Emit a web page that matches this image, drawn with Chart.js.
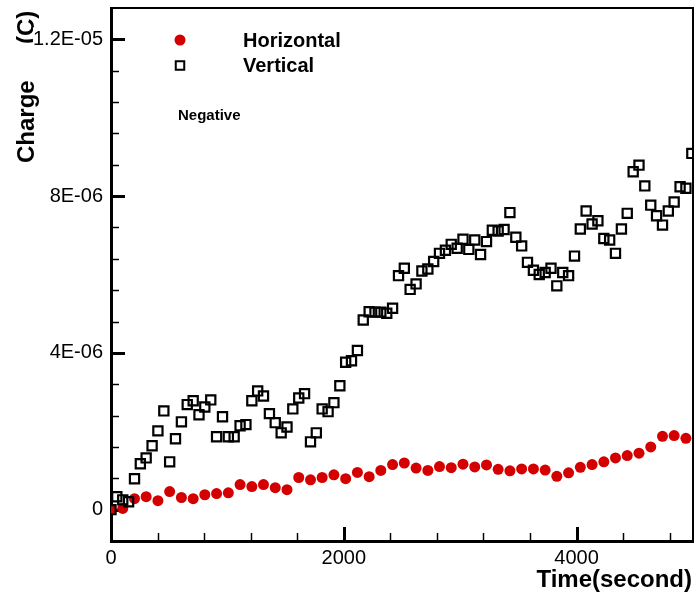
<!DOCTYPE html>
<html>
<head>
<meta charset="utf-8">
<title>Charge vs time</title>
<script src="https://cdn.jsdelivr.net/npm/chart.js@4.4.1/dist/chart.umd.min.js"></script>
<style>
  html, body { margin: 0; padding: 0; background: #fff; }
</style>
</head>
<body>
<canvas id="chargeChart" width="696" height="597"></canvas>
<script>
/* ================= DATA ================= */
// sample times (s)
const verticalTime = [
  0, 50, 101, 151, 202, 252, 302, 353, 403, 454,
  504, 554, 605, 655, 706, 756, 806, 857, 907, 958,
  1008, 1058, 1109, 1159, 1210, 1260, 1310, 1361, 1411, 1462,
  1512, 1562, 1613, 1663, 1714, 1764, 1814, 1865, 1915, 1966,
  2016, 2066, 2117, 2167, 2218, 2268, 2318, 2369, 2419, 2470,
  2520, 2570, 2621, 2671, 2722, 2772, 2822, 2873, 2923, 2974,
  3024, 3074, 3125, 3175, 3226, 3276, 3326, 3377, 3427, 3478,
  3528, 3578, 3629, 3679, 3730, 3780, 3830, 3881, 3931, 3982,
  4032, 4082, 4133, 4183, 4234, 4284, 4334, 4385, 4435, 4486,
  4536, 4586, 4637, 4687, 4738, 4788, 4838, 4889, 4939, 4990
];
// charge (C)
const verticalCharge = [
  0, 0.33e-6, 0.25e-6, 0.20e-6, 0.79e-6, 1.17e-6, 1.32e-6, 1.63e-6, 2.01e-6, 2.52e-6,
  1.22e-6, 1.81e-6, 2.24e-6, 2.68e-6, 2.78e-6, 2.42e-6, 2.62e-6, 2.80e-6, 1.86e-6, 2.37e-6,
  1.86e-6, 1.86e-6, 2.14e-6, 2.17e-6, 2.78e-6, 3.03e-6, 2.90e-6, 2.45e-6, 2.22e-6, 1.96e-6,
  2.11e-6, 2.57e-6, 2.85e-6, 2.96e-6, 1.73e-6, 1.96e-6, 2.57e-6, 2.50e-6, 2.73e-6, 3.16e-6,
  3.76e-6, 3.80e-6, 4.06e-6, 4.84e-6, 5.05e-6, 5.04e-6, 5.04e-6, 5.01e-6, 5.14e-6, 5.97e-6,
  6.16e-6, 5.62e-6, 5.76e-6, 6.09e-6, 6.14e-6, 6.33e-6, 6.54e-6, 6.62e-6, 6.77e-6, 6.67e-6,
  6.90e-6, 6.64e-6, 6.88e-6, 6.51e-6, 6.84e-6, 7.13e-6, 7.11e-6, 7.15e-6, 7.58e-6, 6.95e-6,
  6.73e-6, 6.31e-6, 6.11e-6, 6.00e-6, 6.05e-6, 6.16e-6, 5.71e-6, 6.05e-6, 5.97e-6, 6.47e-6,
  7.16e-6, 7.62e-6, 7.29e-6, 7.37e-6, 6.92e-6, 6.88e-6, 6.54e-6, 7.16e-6, 7.56e-6, 8.62e-6,
  8.79e-6, 8.26e-6, 7.77e-6, 7.50e-6, 7.26e-6, 7.62e-6, 7.85e-6, 8.24e-6, 8.20e-6, 9.09e-6
];

const horizontalTime = [
  0, 101, 202, 302, 403, 504, 605, 706, 806, 907,
  1008, 1109, 1210, 1310, 1411, 1512, 1613, 1714, 1814, 1915,
  2016, 2117, 2218, 2318, 2419, 2520, 2621, 2722, 2822, 2923,
  3024, 3125, 3226, 3326, 3427, 3528, 3629, 3730, 3830, 3931,
  4032, 4133, 4234, 4334, 4435, 4536, 4637, 4738, 4838, 4939
];
const horizontalCharge = [
  0, 0.03e-6, 0.28e-6, 0.33e-6, 0.23e-6, 0.46e-6, 0.31e-6, 0.28e-6, 0.38e-6, 0.41e-6,
  0.43e-6, 0.64e-6, 0.59e-6, 0.64e-6, 0.56e-6, 0.51e-6, 0.82e-6, 0.76e-6, 0.82e-6, 0.89e-6,
  0.79e-6, 0.95e-6, 0.84e-6, 1.00e-6, 1.15e-6, 1.19e-6, 1.06e-6, 1.00e-6, 1.10e-6, 1.07e-6,
  1.16e-6, 1.09e-6, 1.14e-6, 1.03e-6, 0.99e-6, 1.04e-6, 1.04e-6, 1.01e-6, 0.85e-6, 0.94e-6,
  1.08e-6, 1.15e-6, 1.22e-6, 1.32e-6, 1.38e-6, 1.44e-6, 1.60e-6, 1.87e-6, 1.89e-6, 1.82e-6
];

const xTickValues = [0, 2000, 4000];
const xTickLabels = ["0", "2000", "4000"];
const xMinorTicks = [400, 800, 1200, 1600, 2400, 2800, 3200, 3600, 4400, 4800];

const yTickValues = [0, 4e-6, 8e-6, 1.2e-5];
const yTickLabels = ["0", "4E-06", "8E-06", "1.2E-05"];
const yMinorTicks = [8e-7, 1.6e-6, 2.4e-6, 3.2e-6, 4.8e-6, 5.6e-6, 6.4e-6, 7.2e-6,
                     8.8e-6, 9.6e-6, 1.04e-5, 1.12e-5];

/* ================= STYLE ================= */
const FONT = "'Liberation Sans', Arial, Helvetica, sans-serif";
const RED = "#d40000";

const toPoints = (xs, ys) => xs.map((x, i) => ({ x: x, y: ys[i] }));

// fixed box sizes, no extra label padding around the plot
const fixBox = (s, w, h) => {
  if (w) s.width = w;
  if (h) s.height = h;
  s.paddingTop = s.paddingBottom = s.paddingLeft = s.paddingRight = 0;
};

/* ================= PLUGINS ================= */
// axis titles (drawn first so the tick label backdrop sits over them)
const axisTitles = {
  id: "axisTitles",
  beforeDraw(chart) {
    const ctx = chart.ctx;
    ctx.save();
    ctx.fillStyle = "#000";
    ctx.font = "bold 24px " + FONT;
    ctx.textBaseline = "alphabetic";
    ctx.textAlign = "right";
    ctx.fillText("Time(second)", 692, 587);

    ctx.textAlign = "left";
    ctx.save();
    ctx.translate(34, 163);
    ctx.rotate(-Math.PI / 2);
    ctx.fillText("Charge", 0, 0);
    ctx.restore();
    ctx.save();
    ctx.translate(34, 44);
    ctx.rotate(-Math.PI / 2);
    ctx.fillText("(C)", 0, 0);
    ctx.restore();
    ctx.restore();
  }
};

// inward tick marks + top/right frame
const frameTicks = {
  id: "frameTicks",
  beforeDatasetsDraw(chart) {
    const { ctx, chartArea: a, scales: { x, y } } = chart;
    ctx.save();
    ctx.strokeStyle = "#000";
    ctx.lineWidth = 2;
    ctx.beginPath();
    ctx.moveTo(a.left, a.top);
    ctx.lineTo(a.right, a.top);
    ctx.lineTo(a.right, a.bottom);
    ctx.stroke();

    const tickY = (v, len, w) => {
      const py = Math.round(y.getPixelForValue(v)) + 0.5;
      ctx.lineWidth = w;
      ctx.beginPath();
      ctx.moveTo(a.left, py);
      ctx.lineTo(a.left + len, py);
      ctx.stroke();
    };
    const tickX = (v, len, w) => {
      const px = Math.round(x.getPixelForValue(v)) + 0.5;
      ctx.lineWidth = w;
      ctx.beginPath();
      ctx.moveTo(px, a.bottom);
      ctx.lineTo(px, a.bottom - len);
      ctx.stroke();
    };
    yTickValues.forEach(v => tickY(v, 14, 3));
    yMinorTicks.forEach(v => tickY(v, 8, 1.5));
    xTickValues.forEach(v => tickX(v, 14, 3));
    xMinorTicks.forEach(v => tickX(v, 8, 1.5));
    ctx.restore();
  }
};

// legend block and note
const legendBox = {
  id: "legendBox",
  afterDraw(chart) {
    const ctx = chart.ctx;
    const draw = Chart.helpers.drawPoint;
    ctx.save();
    ctx.fillStyle = RED;
    ctx.strokeStyle = RED;
    draw(ctx, { pointStyle: "circle", radius: 5.5, borderWidth: 0, rotation: 0 }, 180, 40);
    ctx.fillStyle = "rgba(0,0,0,0)";
    ctx.strokeStyle = "#000";
    ctx.lineWidth = 2;
    draw(ctx, { pointStyle: "rect", radius: 6, borderWidth: 2, rotation: 0 }, 180, 65.5);

    ctx.fillStyle = "#000";
    ctx.textAlign = "left";
    ctx.textBaseline = "alphabetic";
    ctx.font = "bold 20px " + FONT;
    ctx.fillText("Horizontal", 243, 47);
    ctx.fillText("Vertical", 243, 72);
    ctx.font = "bold 15px " + FONT;
    ctx.fillText("Negative", 178, 120);
    ctx.restore();
  }
};

/* ================= CHART ================= */
new Chart(document.getElementById("chargeChart"), {
  type: "scatter",
  data: {
    datasets: [
      {
        label: "Vertical",
        data: toPoints(verticalTime, verticalCharge),
        pointStyle: "rect",
        pointRadius: 6.5,
        pointHoverRadius: 6.5,
        borderColor: "#000",
        borderWidth: 2.2,
        backgroundColor: "rgba(0,0,0,0)"
      },
      {
        label: "Horizontal",
        data: toPoints(horizontalTime, horizontalCharge),
        pointStyle: "circle",
        pointRadius: 5.5,
        pointHoverRadius: 5.5,
        borderWidth: 0,
        borderColor: RED,
        backgroundColor: RED
      }
    ]
  },
  options: {
    responsive: false,
    animation: false,
    events: [],
    layout: { autoPadding: false, padding: { top: 8, right: 3, left: 0, bottom: 0 } },
    plugins: { legend: { display: false }, tooltip: { enabled: false } },
    scales: {
      x: {
        type: "linear",
        min: 0,
        max: 5000,
        afterBuildTicks: s => { s.ticks = xTickValues.map(v => ({ value: v })); },
        afterFit: s => fixBox(s, 0, 56),
        grid: { display: false, drawTicks: false },
        border: { display: true, color: "#000", width: 3 },
        ticks: {
          callback: (v, i) => xTickLabels[i],
          font: { family: FONT, size: 20 },
          color: "#000",
          padding: 5,
          maxRotation: 0,
          autoSkip: false
        }
      },
      y: {
        type: "linear",
        min: -8e-7,
        max: 1.28e-5,
        afterBuildTicks: s => { s.ticks = yTickValues.map(v => ({ value: v })); },
        afterFit: s => fixBox(s, 111, 0),
        grid: { display: false, drawTicks: false },
        border: { display: true, color: "#000", width: 3 },
        ticks: {
          callback: (v, i) => yTickLabels[i],
          font: { family: FONT, size: 20 },
          color: "#000",
          padding: 8,
          autoSkip: false,
          showLabelBackdrop: true,
          backdropColor: "#fff",
          backdropPadding: 0
        }
      }
    }
  },
  plugins: [axisTitles, frameTicks, legendBox]
});
</script>
</body>
</html>
